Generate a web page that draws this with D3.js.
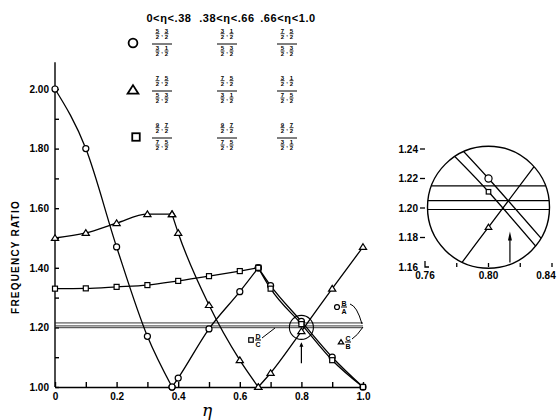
<!DOCTYPE html>
<html>
<head>
<meta charset="utf-8">
<script src="https://cdn.jsdelivr.net/npm/d3@7"></script>
<style>
  body { margin: 0; background: #fff; }
  svg { font-family: 'Liberation Sans', Arial, sans-serif; font-weight: bold; }
</style>
</head>
<body>
<div id="chart"></div>
<script>
// values
const segEta = [[0, 0.1, 0.2, 0.3, 0.38], [0.38, 0.4, 0.5, 0.6, 0.66], [0.66, 0.7, 0.8, 0.9, 1.0]]
const circleRatio = [[2.00, 1.80, 1.47, 1.17, 1.00], [1.00, 1.03, 1.195, 1.32, 1.40], [1.40, 1.34, 1.22, 1.10, 1.00]]
const triangleRatio = [[1.50, 1.517, 1.55, 1.58, 1.58], [1.58, 1.517, 1.275, 1.09, 1.00], [1.00, 1.047, 1.187, 1.33, 1.47]]
const squareEta = [[0, 0.1, 0.2, 0.3, 0.4, 0.5, 0.6, 0.66], [0.66, 0.7, 0.8, 0.9, 1.0]]
const squareRatio = [[1.33, 1.331, 1.336, 1.342, 1.356, 1.372, 1.389, 1.40], [1.40, 1.33, 1.211, 1.09, 1.00]]
const bandRatio = [1.215, 1.205, 1.199]

const xTicks = d3.range(0, 11).map(i => i / 10)
const yTicks = d3.range(0, 11).map(i => 1 + i / 10)
const insetYTicks = [1.16, 1.18, 1.20, 1.22, 1.24]
const insetXLabels = [0.76, 0.80, 0.84]
const insetXTicks = [0.78, 0.80, 0.82, 0.84]

const ranges = ['0<η<.38', '.38<η<.66', '.66<η<1.0']
const circleFracs = [[[5, 3], [3, 1]], [[3, 1], [5, 3]], [[7, 5], [5, 3]]]
const triangleFracs = [[[7, 5], [5, 3]], [[7, 5], [3, 1]], [[3, 1], [7, 5]]]
const squareFracs = [[[9, 7], [7, 5]], [[9, 7], [7, 5]], [[9, 7], [3, 1]]]

const width = 560
const height = 420

const svg = d3.select('#chart')
  .append('svg')
  .attr('width', width)
  .attr('height', height)

const x = d3.scaleLinear([0, 1], [55, 363])
const y = d3.scaleLinear([1, 2.09], [387, 387 - 2.09 * 298 + 298])

const toPts = (etas, vals) => etas.map((e, i) => [e, vals[i]])
const circleSegs = segEta.map((e, i) => toPts(e, circleRatio[i]))
const triangleSegs = segEta.map((e, i) => toPts(e, triangleRatio[i]))
const squareSegs = squareEta.map((e, i) => toPts(e, squareRatio[i]))

function drawMarker(g, kind, px, py, s) {
  if (kind === 'circle') {
    g.append('circle').attr('cx', px).attr('cy', py).attr('r', s * 0.55)
      .attr('fill', '#fff').attr('stroke', '#000').attr('stroke-width', 1.2)
  } else if (kind === 'square') {
    g.append('rect').attr('x', px - s / 2).attr('y', py - s / 2).attr('width', s).attr('height', s)
      .attr('fill', '#fff').attr('stroke', '#000').attr('stroke-width', 1.2)
  } else {
    const h = s * 0.9
    g.append('path')
      .attr('d', `M${px},${py - h * 0.6}L${px + s * 0.6},${py + h * 0.45}L${px - s * 0.6},${py + h * 0.45}Z`)
      .attr('fill', '#fff').attr('stroke', '#000').attr('stroke-width', 1.2)
  }
}

// ---- main plot ----
const main = svg.append('g')

main.append('g')
  .attr('transform', `translate(${x(0)},0)`)
  .call(d3.axisLeft(y).tickValues(yTicks).tickSizeInner(-4).tickSizeOuter(0).tickPadding(6)
    .tickFormat(d => Math.round(d * 10) % 2 === 0 ? d.toFixed(2) : ''))
  .call(g => g.select('.domain').attr('d', `M0,${y(1)}V${y(2.09)}`))

main.append('g')
  .attr('transform', `translate(0,${y(1)})`)
  .call(d3.axisBottom(x).tickValues(xTicks).tickSizeInner(-5).tickSizeOuter(0).tickPadding(6)
    .tickFormat(d => Math.round(d * 10) % 2 === 0 ? (d === 0 ? '0' : d.toFixed(1)) : ''))

main.selectAll('.tick text').attr('font-size', 10).attr('font-weight', 'bold').attr('font-family', 'Liberation Sans, Arial, sans-serif')
main.selectAll('.domain, .tick line').attr('stroke', '#000').attr('stroke-width', 1.4)

const line = d3.line().x(d => x(d[0])).y(d => y(d[1])).curve(d3.curveMonotoneX)

main.selectAll('.band')
  .data(bandRatio)
  .join('line')
  .attr('x1', x(0)).attr('x2', x(1))
  .attr('y1', d => y(d)).attr('y2', d => y(d))
  .attr('stroke', '#222').attr('stroke-width', 0.9)

const allSegs = [...circleSegs, ...triangleSegs, ...squareSegs]
main.selectAll('.seg')
  .data(allSegs)
  .join('path')
  .attr('d', line)
  .attr('fill', 'none').attr('stroke', '#000').attr('stroke-width', 1.3)

const mk = main.append('g')
circleSegs.flat().forEach(d => drawMarker(mk, 'circle', x(d[0]), y(d[1]), 5.5))
triangleSegs.flat().forEach(d => drawMarker(mk, 'triangle', x(d[0]), y(d[1]), 6))
squareSegs.flat().forEach(d => drawMarker(mk, 'square', x(d[0]), y(d[1]), 5))

// magnifier ring and arrow
main.append('circle').attr('cx', x(0.8)).attr('cy', y(1.2)).attr('r', 12)
  .attr('fill', 'none').attr('stroke', '#000').attr('stroke-width', 1.1)
main.append('path').attr('d', `M${x(0.8)},${y(1.08)}V${y(1.145)}`).attr('stroke', '#000').attr('stroke-width', 1.2)
main.append('path').attr('d', `M${x(0.8) - 2},${y(1.135)}L${x(0.8)},${y(1.15)}L${x(0.8) + 2},${y(1.135)}Z`).attr('fill', '#000')

// y title and x title
svg.append('text')
  .attr('transform', 'translate(19,257) rotate(-90)')
  .attr('text-anchor', 'middle')
  .attr('font-size', 10).attr('letter-spacing', 1.2)
  .text('FREQUENCY  RATIO')
svg.append('text')
  .attr('x', 207).attr('y', 416)
  .attr('text-anchor', 'middle')
  .attr('font-size', 17).attr('font-style', 'italic').attr('font-weight', 'normal')
  .attr('font-family', 'DejaVu Serif, serif')
  .text('η')

// stacked letter labels near the band
function letterFrac(g, kind, mx, my, top, bot) {
  drawMarker(g, kind, mx, my, 4.5)
  g.append('text').attr('x', mx + 7).attr('y', my - 1.5).attr('text-anchor', 'middle').attr('font-size', 7).text(top)
  g.append('line').attr('x1', mx + 4).attr('x2', mx + 10).attr('y1', my).attr('y2', my).attr('stroke', '#000')
  g.append('text').attr('x', mx + 7).attr('y', my + 7).attr('text-anchor', 'middle').attr('font-size', 7).text(bot)
}
const notes = svg.append('g')
letterFrac(notes, 'circle', 337, 307, 'B', 'A')
letterFrac(notes, 'triangle', 341, 342, 'C', 'B')
letterFrac(notes, 'square', 251, 340, 'D', 'C')
notes.append('path').attr('d', 'M350,304 Q357,306 362,324').attr('fill', 'none').attr('stroke', '#000')
notes.append('path').attr('d', 'M352,339 Q357,336 363,327').attr('fill', 'none').attr('stroke', '#000')
notes.append('path').attr('d', 'M262,338 L275,328').attr('fill', 'none').attr('stroke', '#000')

// ---- legend table ----
const colX = [162, 227, 287]
const rowY = [44, 91, 138]
const legend = svg.append('g')
legend.selectAll('.hdr')
  .data(ranges)
  .join('text')
  .attr('x', (d, i) => [169, 227, 288][i])
  .attr('y', 22)
  .attr('text-anchor', 'middle')
  .attr('font-size', 11).attr('letter-spacing', 0.6)
  .text(d => d)

function smallFrac(g, cx, by, n) {
  g.append('text').attr('x', cx).attr('y', by - 0.8).attr('text-anchor', 'middle').attr('font-size', 6).text(n)
  g.append('line').attr('x1', cx - 2).attr('x2', cx + 2).attr('y1', by).attr('y2', by).attr('stroke', '#000').attr('stroke-width', 0.8)
  g.append('text').attr('x', cx).attr('y', by + 4.8).attr('text-anchor', 'middle').attr('font-size', 6).text('2')
}
function pair(g, cx, by, p) {
  smallFrac(g, cx - 4.5, by, p[0])
  smallFrac(g, cx + 4.5, by, p[1])
  g.append('text').attr('x', cx).attr('y', by + 2).attr('text-anchor', 'middle').attr('font-size', 6).text(',')
}
const rowsData = [['circle', circleFracs], ['triangle', triangleFracs], ['square', squareFracs]]
rowsData.forEach(([kind, fr], r) => {
  const by = rowY[r]
  if (kind === 'circle') drawMarker(legend, 'circle', 133, by - 1, 8)
  else if (kind === 'triangle') drawMarker(legend, 'triangle', 133, by - 1, 9)
  else drawMarker(legend, 'square', 136, by - 1, 7.5)
  fr.forEach((f, c) => {
    const cx = colX[c]
    pair(legend, cx, by - 10.3, f[0])
    legend.append('line').attr('x1', cx - 10).attr('x2', cx + 10).attr('y1', by).attr('y2', by).attr('stroke', '#000').attr('stroke-width', 1)
    pair(legend, cx, by + 7, f[1])
  })
})
legend.selectAll('circle, rect, path').attr('stroke-width', 1.8)

// ---- inset ----
const xi = d3.scaleLinear([0.76, 0.84], [425, 552])
const yi = d3.scaleLinear([1.16, 1.24], [267, 149])
const inset = svg.append('g')
const cx0 = xi(0.80)
const cy0 = yi(1.2005)
const rr = 61

svg.append('clipPath').attr('id', 'lens')
  .append('circle').attr('cx', cx0).attr('cy', cy0).attr('r', rr)

const lens = inset.append('g').attr('clip-path', 'url(#lens)')
const lineI = d3.line().x(d => xi(d[0])).y(d => yi(d[1])).curve(d3.curveMonotoneX)
lens.selectAll('.band')
  .data(bandRatio)
  .join('line')
  .attr('x1', cx0 - rr).attr('x2', cx0 + rr)
  .attr('y1', d => yi(d)).attr('y2', d => yi(d))
  .attr('stroke', '#000').attr('stroke-width', 1.2)
lens.selectAll('.seg')
  .data([circleSegs[2], triangleSegs[2], squareSegs[1]])
  .join('path')
  .attr('d', lineI)
  .attr('fill', 'none').attr('stroke', '#000').attr('stroke-width', 1.3)

inset.append('circle').attr('cx', cx0).attr('cy', cy0).attr('r', rr)
  .attr('fill', 'none').attr('stroke', '#000').attr('stroke-width', 1.4)

drawMarker(inset, 'circle', xi(0.8), yi(circleRatio[2][2]), 6.5)
drawMarker(inset, 'square', xi(0.8), yi(squareRatio[1][2]), 4.5)
drawMarker(inset, 'triangle', xi(0.8), yi(triangleRatio[2][2]), 5.5)

const ax = xi(0.8135)
inset.append('path').attr('d', `M${ax},${yi(1.163)}V${yi(1.180)}`).attr('stroke', '#000').attr('stroke-width', 1.2)
inset.append('path').attr('d', `M${ax - 2},${yi(1.178)}L${ax},${yi(1.184)}L${ax + 2},${yi(1.178)}Z`).attr('fill', '#000')

inset.selectAll('.ylab')
  .data(insetYTicks)
  .join('text')
  .attr('x', 418).attr('y', d => yi(d) + 3.5)
  .attr('text-anchor', 'end')
  .attr('font-size', 10)
  .text(d => d.toFixed(2))
inset.selectAll('.ytick')
  .data(insetYTicks.slice(1))
  .join('line')
  .attr('x1', 420).attr('x2', 425)
  .attr('y1', d => yi(d)).attr('y2', d => yi(d))
  .attr('stroke', '#000').attr('stroke-width', 1.3)
inset.append('path').attr('d', `M${xi(0.76)},${yi(1.16) - 6}V${yi(1.16)}H${xi(0.76) + 4}`)
  .attr('fill', 'none').attr('stroke', '#000').attr('stroke-width', 1.3)
inset.selectAll('.xtick')
  .data(insetXTicks)
  .join('line')
  .attr('x1', d => xi(d)).attr('x2', d => xi(d))
  .attr('y1', yi(1.16) - 4).attr('y2', yi(1.16))
  .attr('stroke', '#000').attr('stroke-width', 1.3)
inset.selectAll('.xlab')
  .data(insetXLabels)
  .join('text')
  .attr('x', d => Math.min(xi(d), 546)).attr('y', 279)
  .attr('text-anchor', 'middle')
  .attr('font-size', 10)
  .text(d => d.toFixed(2))
</script>
</body>
</html>
